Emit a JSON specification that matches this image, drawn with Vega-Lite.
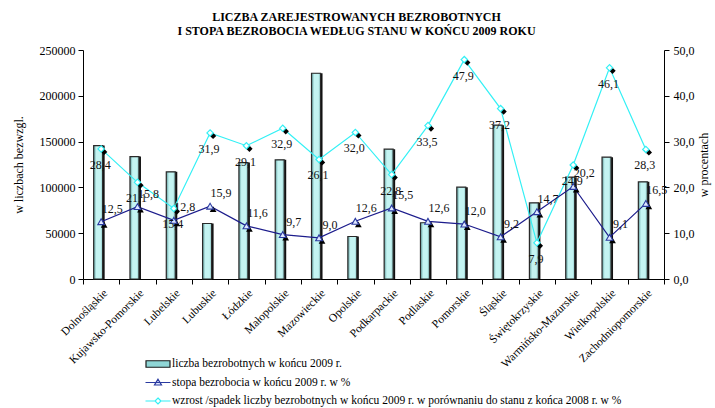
{
  "$schema": "https://vega.github.io/schema/vega-lite/v6.json",
  "width": 581,
  "height": 229,
  "autosize": {"type": "none"},
  "padding": {"left": 83, "top": 50, "right": 51, "bottom": 129},
  "background": "white",
  "config": {
    "view": {"stroke": null},
    "font": "Liberation Serif",
    "locale": {"number": {"decimal": ",", "thousands": "", "grouping": [3], "currency": ["", ""]}},
    "axis": {
      "domainColor": "#000000",
      "tickColor": "#000000",
      "labelColor": "#000000",
      "titleColor": "#000000",
      "labelFont": "Liberation Serif",
      "titleFont": "Liberation Serif",
      "titleFontWeight": "normal",
      "grid": false,
      "tickSize": 5,
      "labelFontSize": 12
    }
  },
  "title": {
    "text": ["LICZBA  ZAREJESTROWANYCH   BEZROBOTNYCH", "I  STOPA  BEZROBOCIA  WEDŁUG  STANU  W  KOŃCU  2009  ROKU"],
    "font": "Liberation Serif",
    "fontSize": 12,
    "fontWeight": "bold",
    "color": "#000000",
    "anchor": "middle",
    "dx": -17,
    "offset": 6,
    "lineHeight": 14
  },
  "data": {
    "values": [
      {"region": "Dolnośląskie", "liczba": 145700, "rate": 12.5, "wzrost": 28.4},
      {"region": "Kujawsko-Pomorskie", "liczba": 133700, "rate": 15.8, "wzrost": 21.1},
      {"region": "Lubelskie", "liczba": 117000, "rate": 12.8, "wzrost": 15.4},
      {"region": "Lubuskie", "liczba": 60600, "rate": 15.9, "wzrost": 31.9},
      {"region": "Łódzkie", "liczba": 127100, "rate": 11.6, "wzrost": 29.1},
      {"region": "Małopolskie", "liczba": 130100, "rate": 9.7, "wzrost": 32.9},
      {"region": "Mazowieckie", "liczba": 224600, "rate": 9.0, "wzrost": 26.1},
      {"region": "Opolskie", "liczba": 46400, "rate": 12.6, "wzrost": 32.0},
      {"region": "Podkarpackie", "liczba": 141700, "rate": 15.5, "wzrost": 22.8},
      {"region": "Podlaskie", "liczba": 61400, "rate": 12.6, "wzrost": 33.5},
      {"region": "Pomorskie", "liczba": 100300, "rate": 12.0, "wzrost": 47.9},
      {"region": "Śląskie", "liczba": 167900, "rate": 9.2, "wzrost": 37.2},
      {"region": "Świętokrzyskie", "liczba": 83200, "rate": 14.7, "wzrost": 7.9},
      {"region": "Warmińsko-Mazurskie", "liczba": 111200, "rate": 20.2, "wzrost": 24.9},
      {"region": "Wielkopolskie", "liczba": 133000, "rate": 9.1, "wzrost": 46.1},
      {"region": "Zachodniopomorskie", "liczba": 106100, "rate": 16.5, "wzrost": 28.3}
    ]
  },
  "encoding": {
    "x": {
      "field": "region",
      "type": "nominal",
      "sort": null,
      "scale": {"paddingInner": 0, "paddingOuter": 0},
      "axis": {
        "title": null,
        "labelAngle": -45,
        "labelAlign": "right",
        "labelBaseline": "top",
        "labelFontSize": 11.5,
        "labelPadding": 3,
        "tickBand": "extent",
        "labelLimit": 200
      }
    }
  },
  "layer": [
    {
      "encoding": {
        "y": {
          "field": "liczba",
          "type": "quantitative",
          "scale": {"domain": [0, 250000], "nice": false},
          "axis": {
            "orient": "left",
            "title": "w liczbach bezwzgl.",
            "values": [0, 50000, 100000, 150000, 200000, 250000],
            "format": "d",
            "titleFontSize": 12,
            "titlePadding": 14,
            "labelPadding": 3
          }
        }
      },
      "layer": [
        {"mark": {"type": "bar", "size": 9, "xOffset": -1, "color": "#111111"}},
        {
          "mark": {
            "type": "bar",
            "size": 9,
            "xOffset": -3,
            "stroke": "#2a2a2a",
            "strokeWidth": 1.2,
            "fill": {
              "gradient": "linear",
              "x1": 0, "x2": 1, "y1": 0, "y2": 0,
              "stops": [
                {"offset": 0, "color": "#5f9c9c"},
                {"offset": 0.3, "color": "#c4f4f2"},
                {"offset": 0.75, "color": "#c4f4f2"},
                {"offset": 1, "color": "#8cc6c6"}
              ]
            }
          }
        }
      ]
    },
    {
      "layer": [
        {
          "mark": {"type": "line", "color": "#33f0f5", "strokeWidth": 1.2},
          "encoding": {
            "y": {
              "field": "wzrost", "type": "quantitative",
              "scale": {"domain": [0, 50], "nice": false},
              "axis": {
                "orient": "right",
                "title": "w procentach",
                "values": [0, 10, 20, 30, 40, 50],
                "format": ".1f",
                "titleFontSize": 12,
                "titleAngle": 270,
                "titlePadding": 16,
                "labelPadding": 4
              }
            }
          }
        },
        {
          "mark": {"type": "point", "shape": "diamond", "filled": true, "color": "#000000", "size": 40, "xOffset": 3, "yOffset": 3, "opacity": 1},
          "encoding": {"y": {"field": "wzrost", "type": "quantitative", "title": "w procentach"}}
        },
        {
          "mark": {"type": "point", "shape": "diamond", "filled": true, "fill": "#ffffff", "stroke": "#33f0f5", "strokeWidth": 1.2, "size": 40, "opacity": 1},
          "encoding": {"y": {"field": "wzrost", "type": "quantitative", "title": "w procentach"}}
        },
        {
          "mark": {"type": "line", "color": "#1c1c8c", "strokeWidth": 1.2},
          "encoding": {"y": {"field": "rate", "type": "quantitative", "title": "w procentach"}}
        },
        {
          "mark": {"type": "point", "shape": "triangle-up", "filled": true, "color": "#000000", "size": 45, "xOffset": 3, "yOffset": 3, "opacity": 1},
          "encoding": {"y": {"field": "rate", "type": "quantitative", "title": "w procentach"}}
        },
        {
          "mark": {"type": "point", "shape": "triangle-up", "filled": true, "fill": "#dfe8ff", "stroke": "#2a3aa0", "strokeWidth": 1.1, "size": 45, "opacity": 1},
          "encoding": {"y": {"field": "rate", "type": "quantitative", "title": "w procentach"}}
        },
        {
          "mark": {"type": "text", "font": "Liberation Serif", "fontSize": 12, "color": "#111111", "dx": -1, "dy": 16, "baseline": "middle", "align": "center"},
          "encoding": {
            "y": {"field": "wzrost", "type": "quantitative", "title": "w procentach"},
            "text": {"field": "wzrost", "type": "quantitative", "format": ".1f"}
          }
        },
        {
          "mark": {"type": "text", "font": "Liberation Serif", "fontSize": 12, "color": "#111111", "dx": 11, "dy": -13, "baseline": "middle", "align": "center"},
          "encoding": {
            "y": {"field": "rate", "type": "quantitative", "title": "w procentach"},
            "text": {"field": "rate", "type": "quantitative", "format": ".1f"}
          }
        },
        {
          "mark": {"type": "point", "opacity": 1, "strokeWidth": 1.2},
          "transform": [{"filter": "false"}],
          "encoding": {
            "shape": {
              "field": "series", "type": "nominal",
              "scale": {
                "domain": ["liczba bezrobotnych w końcu 2009 r.", "stopa bezrobocia w końcu 2009 r.  w %", "wzrost /spadek liczby bezrobotnych w końcu 2009 r. w porównaniu do stanu z końca 2008 r. w %"],
                "range": ["M-2.4,-0.65H2.4V0.65H-2.4Z", "M-2.5,0H2.5M0,-0.65L0.7,0.5H-0.7Z", "M-2.5,0H-0.6M0.6,0H2.5M0,-0.6L0.6,0L0,0.6L-0.6,0Z"]
              },
              "legend": {
                "title": null,
                "orient": "none",
                "legendX": 69,
                "legendY": 308,
                "symbolSize": 100,
                "labelOffset": 8,
                "labelFont": "Liberation Serif",
                "labelFontSize": 11.5,
                "labelColor": "#000000",
                "labelLimit": 700,
                "rowPadding": 6.5,
                "padding": 0,
                "symbolStrokeWidth": 1.2
              }
            },
            "fill": {
              "field": "series", "type": "nominal",
              "scale": {
                "domain": ["liczba bezrobotnych w końcu 2009 r.", "stopa bezrobocia w końcu 2009 r.  w %", "wzrost /spadek liczby bezrobotnych w końcu 2009 r. w porównaniu do stanu z końca 2008 r. w %"],
                "range": ["#8fd6d6", "#dfe8ff", "#ffffff"]
              },
              "legend": {"title": null}
            },
            "stroke": {
              "field": "series", "type": "nominal",
              "scale": {
                "domain": ["liczba bezrobotnych w końcu 2009 r.", "stopa bezrobocia w końcu 2009 r.  w %", "wzrost /spadek liczby bezrobotnych w końcu 2009 r. w porównaniu do stanu z końca 2008 r. w %"],
                "range": ["#1a1a1a", "#2a3aa0", "#33f0f5"]
              },
              "legend": {"title": null}
            }
          }
        }
      ]
    }
  ],
  "resolve": {"scale": {"y": "independent"}}
}
